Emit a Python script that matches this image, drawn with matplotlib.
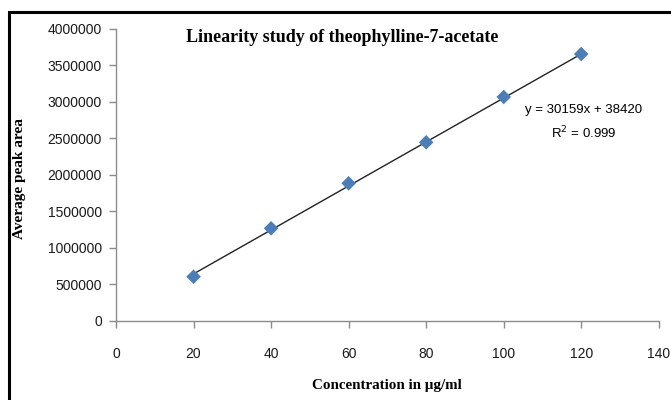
import numpy as np
import matplotlib
matplotlib.use("Agg")
import matplotlib.pyplot as plt
from matplotlib.patches import Rectangle

conc = [20, 40, 60, 80, 100, 120]
peak_area = [603000, 1267000, 1884000, 2446000, 3068000, 3657000]
slope = 30159
intercept = 38420
r_squared = 0.999
x_ticks = [0, 20, 40, 60, 80, 100, 120, 140]
y_ticks = [0, 500000, 1000000, 1500000, 2000000, 2500000, 3000000, 3500000, 4000000]

fig = plt.figure(figsize=(6.71, 4.00), dpi=100)
ax = fig.add_axes([116 / 671, 1 - 320.7 / 400, (658.8 - 116) / 671, (320.7 - 29) / 400])

# trendline from the fitted equation
fit_x = np.array([conc[0], conc[-1]])
ax.plot(fit_x, slope * fit_x + intercept, color='#222222', lw=1.0, zorder=2)
ax.scatter(conc, peak_area, marker='D', s=55, color='#4a7ebb', edgecolors='none', zorder=3)

ax.set_xlim(0, 140)
ax.set_ylim(0, 4000000)
ax.set_xticks(x_ticks)
ax.set_yticks(y_ticks)
ax.set_xticklabels([str(v) for v in x_ticks])
ax.set_yticklabels([str(v) for v in y_ticks])

for s in ['top', 'right']:
    ax.spines[s].set_visible(False)
for s in ['left', 'bottom']:
    ax.spines[s].set_color('#8c8c8c')
    ax.spines[s].set_linewidth(1.0)
ax.tick_params(axis='both', direction='out', length=5, width=1, color='#8c8c8c',
               labelsize=9, labelcolor='#1a1a1a')
ax.tick_params(axis='x', pad=14)
ax.tick_params(axis='y', pad=5)
for lab in ax.get_xticklabels() + ax.get_yticklabels():
    lab.set_family('Liberation Sans')
    lab.set_fontsize(10)

fig.text(342 / 671, 1 - 37 / 400, 'Linearity study of theophylline-7-acetate',
         family='Liberation Serif', weight='bold', fontsize=13, ha='center', va='center')
fig.text(20 / 671, 1 - 179 / 400, 'Average peak area', family='Liberation Serif',
         weight='bold', fontsize=11, rotation=90, ha='center', va='center')
fig.text(387 / 671, 1 - 386 / 400, 'Concentration in µg/ml', family='Liberation Serif',
         weight='bold', fontsize=10.8, ha='center', va='center')

fig.text(584 / 671, 1 - 110 / 400, f'y = {slope}x + {intercept}', family='Liberation Sans',
         fontsize=9.5, ha='center', va='center')
fig.text(584 / 671, 1 - 133 / 400, f'R$^2$ = {r_squared}', family='Liberation Sans',
         fontsize=9.5, ha='center', va='center')

# outer frame (cut off at right and bottom in the original)
fig.patches.append(Rectangle((8.5 / 671, -0.1), 1.2, 1 - 12.5 / 400 + 0.1,
                             transform=fig.transFigure, fill=False, edgecolor='black',
                             lw=2.2, clip_on=False))

fig.savefig('out.png', dpi=100)
